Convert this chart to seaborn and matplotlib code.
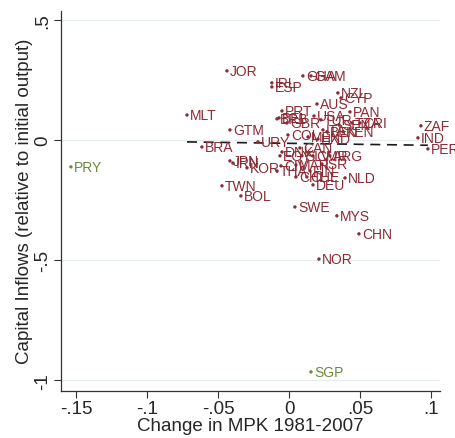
import matplotlib
matplotlib.use("Agg")
import matplotlib.pyplot as plt
import seaborn as sns
import numpy as np
import pandas as pd

# ---- data ----
countries = ["JOR", "IRL", "ESP", "GHA", "GAM", "NZL", "CYP", "AUS", "PRT", "PAN",
             "MLT", "BRB", "BEL", "GBR", "USA", "TUR", "ITA", "SEN", "TZA", "CRI",
             "BEN", "KEN", "MEX", "HND", "CAN", "DNK", "EGY", "SLV", "CMR", "ARG",
             "ISR", "CIV", "MAR", "THA", "KOR", "JPN", "IRN", "FIN", "CHL", "CHE",
             "DEU", "NLD", "TWN", "BOL", "SWE", "MYS", "CHN", "NOR", "ZAF", "IND",
             "PER", "URY", "COL", "BRA", "GTM"]
mpk_change = [-0.0438, -0.0122, -0.0122, 0.0096, 0.0153, 0.0342, 0.0364, 0.0195, -0.0051, 0.0427,
              -0.0719, -0.0086, -0.0072, -0.0016, 0.0174, 0.0223, 0.0237, 0.0350, 0.0441, 0.0497,
              0.0265, 0.0378, 0.0132, 0.0202, 0.0075, -0.0051, -0.0065, 0.0089, 0.0167, 0.0286,
              0.0230, -0.0058, 0.0047, -0.0086, -0.0297, -0.0417, -0.0396, 0.0146, 0.0047, 0.0124,
              0.0167, 0.0392, -0.0473, -0.0340, 0.0040, 0.0335, 0.0490, 0.0209, 0.0926, 0.0905,
              0.0975, -0.0220, -0.0009, -0.0614, -0.0417]
inflows = [0.289, 0.239, 0.222, 0.268, 0.268, 0.197, 0.176, 0.151, 0.122, 0.118,
           0.105, 0.089, 0.093, 0.072, 0.101, 0.085, 0.043, 0.064, 0.072, 0.072,
           0.035, 0.035, 0.014, 0.005, -0.032, -0.049, -0.065, -0.065, -0.065, -0.065,
           -0.099, -0.107, -0.103, -0.128, -0.115, -0.086, -0.095, -0.128, -0.153, -0.153,
           -0.186, -0.157, -0.190, -0.232, -0.278, -0.315, -0.390, -0.495, 0.060, 0.010,
           -0.036, -0.007, 0.022, -0.028, 0.043]

outlier_countries = ["PRY", "SGP"]
outlier_mpk = [-0.1535, 0.0153]
outlier_inflows = [-0.111, -0.965]

x_ticks = [-0.15, -0.1, -0.05, 0, 0.05, 0.1]
x_tick_labels = ["-.15", "-.1", "-.05", "0", ".05", ".1"]
y_ticks = [-1, -0.5, 0, 0.5]
y_tick_labels = ["-1", "-.5", "0", ".5"]

main = pd.DataFrame({"country": countries, "mpk": mpk_change, "inflow": inflows})
out = pd.DataFrame({"country": outlier_countries, "mpk": outlier_mpk, "inflow": outlier_inflows})

red = "#8C2A35"
green = "#6A8A3C"

sns.set_theme(style="white")
plt.rcParams["font.family"] = ["Liberation Sans", "DejaVu Sans"]

fig = plt.figure(figsize=(4.55, 4.39), dpi=100)
ax = fig.add_axes([0.134, 0.108, 0.833, 0.865])

for yt in y_ticks:
    ax.axhline(yt, color="#E6EFF0", lw=0.9, zorder=0)

sns.scatterplot(data=main, x="mpk", y="inflow", ax=ax, color=red, s=6,
                edgecolor="none", legend=False, zorder=3)
sns.scatterplot(data=out, x="mpk", y="inflow", ax=ax, color=green, s=6,
                edgecolor="none", legend=False, zorder=3)
sns.regplot(data=main, x="mpk", y="inflow", ax=ax, scatter=False, ci=None,
            line_kws=dict(color="#1a1a1a", lw=1.2, ls=(0, (6, 4))))

for _, r in main.iterrows():
    ax.annotate(r["country"], (r["mpk"], r["inflow"]), xytext=(2.2, 0),
                textcoords="offset points", va="center", ha="left",
                fontsize=10, color=red, zorder=4)
for _, r in out.iterrows():
    ax.annotate(r["country"], (r["mpk"], r["inflow"]), xytext=(2.2, 0),
                textcoords="offset points", va="center", ha="left",
                fontsize=10, color=green, zorder=4)

ax.set_xlim(-0.1605, 0.106)
ax.set_ylim(-1.043, 0.539)
ax.set_xticks(x_ticks)
ax.set_xticklabels(x_tick_labels, fontsize=13.5)
ax.set_yticks(y_ticks)
ax.set_yticklabels(y_tick_labels, fontsize=13.5, rotation=90, va="center")
ax.tick_params(axis="both", which="major", direction="out", length=5, width=0.8,
               color="#333333", bottom=True, left=True, pad=2)
for s in ["top", "right"]:
    ax.spines[s].set_visible(False)
for s in ["left", "bottom"]:
    ax.spines[s].set_color("#333333")
    ax.spines[s].set_linewidth(0.9)
ax.set_xlabel("Change in MPK 1981-2007", fontsize=13.5, labelpad=0)
ax.set_ylabel("Capital Inflows (relative to initial output)", fontsize=13.5, labelpad=1)

fig.savefig("out.png", dpi=100, facecolor="white")
